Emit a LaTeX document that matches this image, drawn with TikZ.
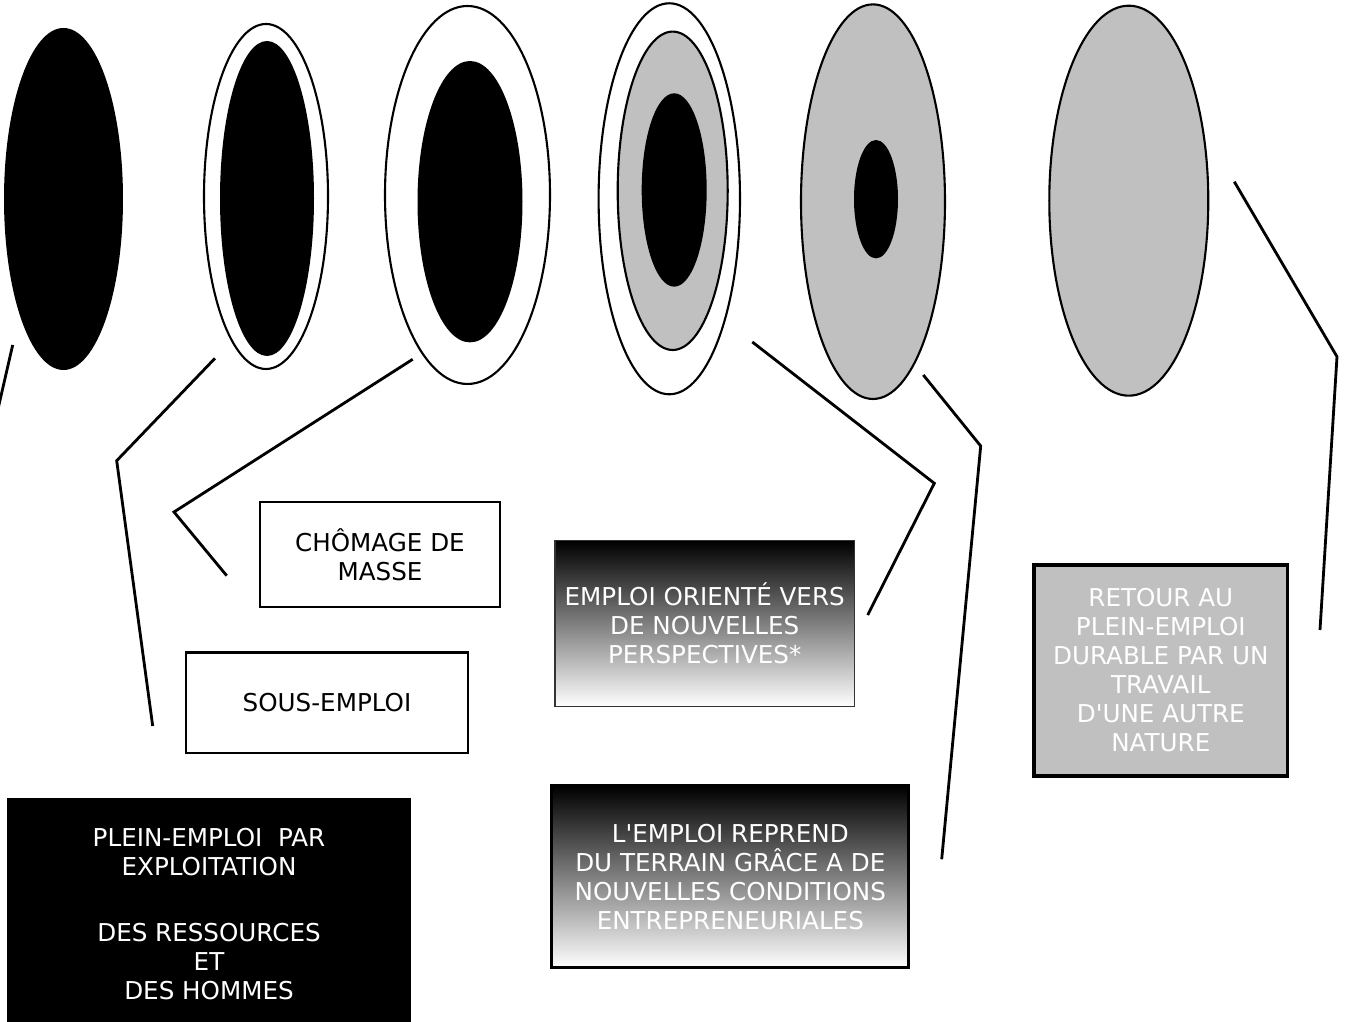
\documentclass[tikz,border=0pt]{standalone}
\usepackage{fontspec}
\setmainfont{DejaVu Sans}
\definecolor{ringgray}{RGB}{192,192,192}
\tikzset{
  link/.style={line width=0.8pt},
  ring/.style={line width=0.6pt},
  boxtext/.style={align=center, inner sep=0pt, font=\fontsize{7}{8.25}\selectfont},
  whitebox/.style={boxtext, draw, line width=0.65pt, fill=white},
  fadebox/.style={boxtext, text=white, top color=black, bottom color=white},
}
\begin{document}
\begin{tikzpicture}
\useasboundingbox (0,0) rectangle (13.47,10.22);

% Rings
\fill[black] (0.635,8.23) ellipse (0.595 and 1.71);
\draw[ring,fill=white] (2.66,8.255) ellipse (0.62 and 1.725);
\fill[black] (2.67,8.235) ellipse (0.47 and 1.575);
\draw[ring,fill=white] (4.675,8.27) ellipse (0.825 and 1.89);
\fill[black] (4.70,8.203) ellipse (0.525 and 1.407);
\draw[ring,fill=white] (6.693,8.232) ellipse (0.707 and 1.955);
\draw[ring,fill=ringgray] (6.727,8.312) ellipse (0.55 and 1.592);
\fill[black] (6.742,8.32) ellipse (0.325 and 0.967);
\draw[ring,fill=ringgray] (8.73,8.203) ellipse (0.72 and 1.973);
\fill[black] (8.76,8.228) ellipse (0.22 and 0.592);
\draw[ring,fill=ringgray] (11.288,8.213) ellipse (0.795 and 1.95);

% Boxes
\node[whitebox, minimum width=2.40cm, minimum height=1.05cm] (chomage) at (3.80,4.675) {CHÔMAGE DE\\MASSE};
\node[whitebox, minimum width=2.826cm, minimum height=1.005cm] (sous) at (3.27,3.1925) {SOUS-EMPLOI};
\node[boxtext, fill=black, text=white, minimum width=4.034cm, minimum height=2.32cm] (plein) at (2.09,1.08)
  {PLEIN-EMPLOI\ \ PAR\\EXPLOITATION\\[0.37cm]DES RESSOURCES\\ET\\DES HOMMES};
\node[fadebox, draw=black!80, line width=0.4pt, minimum width=2.993cm, minimum height=1.66cm] (oriente) at (7.047,3.983)
  {EMPLOI ORIENTÉ VERS\\DE NOUVELLES\\PERSPECTIVES*};
\node[fadebox, draw=black, line width=0.85pt, minimum width=3.573cm, minimum height=1.82cm] (reprend) at (7.303,1.45)
  {L\textquotesingle EMPLOI REPREND\\DU TERRAIN GRÂCE A DE\\NOUVELLES CONDITIONS\\ENTREPRENEURIALES};
\node[boxtext, draw=black, line width=0.95pt, fill=ringgray, text=white, minimum width=2.537cm, minimum height=2.11cm] (retour) at (11.608,3.515)
  {RETOUR AU\\PLEIN-EMPLOI\\DURABLE PAR UN\\TRAVAIL\\D\textquotesingle UNE AUTRE\\NATURE};

% Link ends
\coordinate (l1a) at (0.127,6.77);
\coordinate (l1b) at (-0.02,6.13);
\coordinate (l2a) at (2.15,6.637);
\coordinate (l2b) at (1.167,5.613);
\coordinate (l2c) at (1.527,2.96);
\coordinate (l3a) at (4.127,6.627);
\coordinate (l3b) at (1.74,5.10);
\coordinate (l3c) at (2.267,4.463);
\coordinate (l4a) at (7.523,6.80);
\coordinate (l4b) at (9.343,5.387);
\coordinate (l4c) at (8.677,4.07);
\coordinate (l5a) at (9.233,6.47);
\coordinate (l5b) at (9.807,5.76);
\coordinate (l5c) at (9.417,1.627);
\coordinate (l6a) at (12.343,8.403);
\coordinate (l6b) at (13.37,6.653);
\coordinate (l6c) at (13.20,3.92);

% Links
\draw[link] (l1a) -- (l1b);
\draw[link] (l2a) -- (l2b) -- (l2c);
\draw[link] (l3a) -- (l3b) -- (l3c);
\draw[link] (l4a) -- (l4b) -- (l4c);
\draw[link] (l5a) -- (l5b) -- (l5c);
\draw[link] (l6a) -- (l6b) -- (l6c);
\end{tikzpicture}
\end{document}
